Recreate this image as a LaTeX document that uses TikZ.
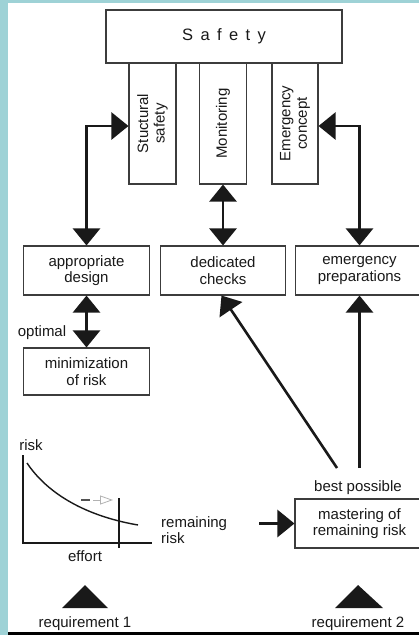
\documentclass[tikz,border=0pt]{standalone}
\usepackage{fontspec}
\setmainfont{Liberation Sans}
\usetikzlibrary{arrows.meta}
\definecolor{teal1}{RGB}{158,210,214}
\definecolor{ink}{RGB}{25,25,25}
\definecolor{frame}{RGB}{60,60,60}
\begin{document}
\begin{tikzpicture}[x=1pt,y=-1pt,
  box/.style={draw=frame,line width=1.1pt,fill=white,inner sep=0pt,align=center,
    font=\fontsize{15}{16.5}\selectfont,text=ink},
  txt/.style={inner sep=0pt,align=center,font=\fontsize{15}{16.5}\selectfont,text=ink},
  conn/.style={draw=ink,line width=2.6pt},
  >={Triangle[width=27pt,length=17pt]}
]
\useasboundingbox (0,0) rectangle (419,635);
\fill[teal1] (0,0) rectangle (419,635);
\fill[white] (8,3) rectangle (430,632);
\fill[black] (8,632) rectangle (430,635);

% top boxes
\node[box,minimum width=236pt,minimum height=53pt] (safety) at (224,36.5)
  {\fontsize{16.5}{18}\selectfont S\kern7.4pt a\kern7.4pt f\kern7.4pt e\kern7.4pt t\kern7.4pt y};
\node[box,minimum width=47pt,minimum height=121pt] (ss) at (152.5,123.5) {};
\node[box,minimum width=47pt,minimum height=121pt] (mon) at (223,123.5) {};
\node[box,minimum width=46pt,minimum height=121pt] (ec) at (295,123.5) {};
\node[txt,rotate=90] (sst) at (ss.center) {Stuctural\\safety};
\node[txt,rotate=90] (mont) at (mon.center) {Monitoring};
\node[txt,rotate=90] (ect) at (ec.center) {Emergency\\concept};

% middle boxes
\node[box,minimum width=126pt,minimum height=49pt] (ad) at (86.5,270.5) {appropriate\\design};
\node[box,minimum width=125pt,minimum height=49pt] (dc) at (223,270.5) {dedicated\\checks};
\node[box,minimum width=128pt,minimum height=49pt] (ep) at (359.5,270.5) {emergency\\preparations};
\node[box,minimum width=126pt,minimum height=47pt] (mr) at (86.5,371.5) {minimization\\of risk};
\node[box,minimum width=129pt,minimum height=49pt] (mast) at (359.5,523.5) {mastering of\\remaining risk};

% connectors
\coordinate (ssin) at ([yshift=-2.5pt]ss.west);
\coordinate (ecin) at ([yshift=-2.5pt]ec.east);
\draw[conn,<->] (ad.north) |- (ssin);
\draw[conn,<->] (ep.north) |- (ecin);
\draw[conn,<->] (mon.south) -- (dc.north);
\draw[conn,<->] (ad.south) -- (mr.north);
\coordinate (d1) at (337,468);
\coordinate (d2) at (359.5,468);
\draw[conn,->] (d1) -- ([xshift=-1.5pt]dc.south);
\draw[conn,->] (d2) -- (ep.south);
\coordinate (m1) at (259,523.5);
\draw[conn,->] (m1) -- (mast.west);

% labels
\node[txt] (opt) at (42,333) {optimal};
\node[txt] (best) at (358,488) {best possible};
\node[txt,anchor=west,align=left] (rem) at (161,530) {remaining\\risk};

% graph
\node[txt] (risk) at (31,445) {risk};
\node[txt] (eff) at (85,556) {effort};
\coordinate (o) at (23,543);
\coordinate (yt) at (23,455);
\coordinate (xr) at (152,543);
\draw[draw=ink,line width=1.4pt] (yt) -- (o) -- (xr);
\coordinate (c0) at (27,463);
\coordinate (c1) at (138,525);
\draw[draw=ink,line width=1.4pt] (c0) .. controls (45,490) and (80,515) .. (c1);
\coordinate (v0) at (119,498);
\coordinate (v1) at (119,548);
\draw[draw=ink,line width=1.4pt] (v0) -- (v1);
\coordinate (g0) at (81,500);
\coordinate (g1) at (90,500);
\coordinate (g2) at (93,500);
\coordinate (g3) at (113,500);
\draw[draw=ink!75,line width=1.8pt] (g0) -- (g1);
\draw[draw=black!30,line width=0.8pt,-{Triangle[open,length=13pt,width=9pt]}] (g2) -- (g3);

% requirements
\coordinate (t1a) at (62,608);
\coordinate (t1b) at (108,608);
\coordinate (t1c) at (85,585);
\fill[ink] (t1a) -- (t1b) -- (t1c) -- cycle;
\coordinate (t2a) at (335,608);
\coordinate (t2b) at (383,608);
\coordinate (t2c) at (358,585);
\fill[ink] (t2a) -- (t2b) -- (t2c) -- cycle;
\node[txt] (req1) at (85,623.5) {requirement 1};
\node[txt] (req2) at (358,623.5) {requirement 2};
\end{tikzpicture}
\end{document}
